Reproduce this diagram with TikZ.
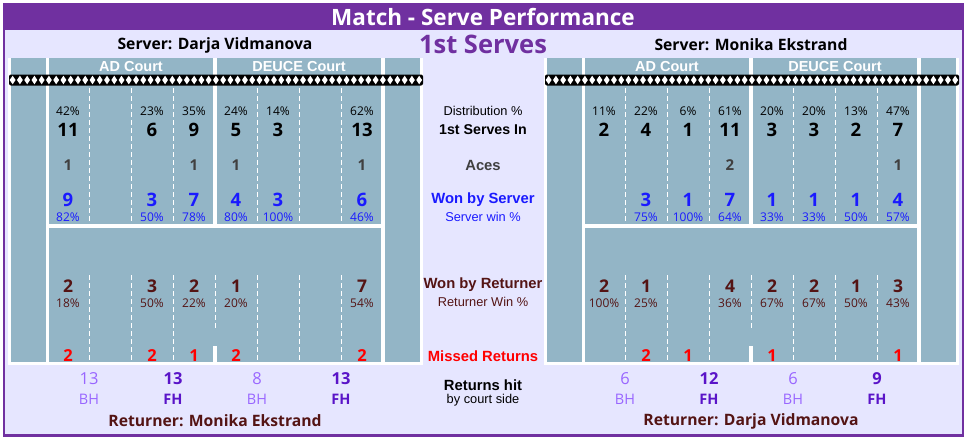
\documentclass[tikz,border=0pt]{standalone}
\usepackage{fontspec}
\setmainfont{Open Sans}
\newfontfamily\osf{Open Sans}
\newfontfamily\arf{Liberation Sans}
\definecolor{ttl}{RGB}{112,48,160}
\definecolor{lav}{RGB}{230,230,255}
\definecolor{court}{RGB}{147,181,198}
\definecolor{srvblue}{RGB}{26,26,255}
\definecolor{retbrown}{RGB}{84,20,20}
\definecolor{acegray}{RGB}{64,64,64}
\definecolor{bhc}{RGB}{153,102,255}
\definecolor{fhc}{RGB}{90,20,200}
\definecolor{missred}{RGB}{255,0,0}
\tikzset{
  lbl/.style={inner sep=0pt, anchor=center},
  pct/.style={lbl, font=\osf\fontsize{12}{14}\selectfont, text=black},
  num/.style={lbl, font=\osf\bfseries\fontsize{18.5}{20}\selectfont, text=black},
  ace/.style={lbl, font=\osf\bfseries\fontsize{15}{17}\selectfont, text=acegray},
  won/.style={num, text=srvblue},
  winp/.style={pct, text=srvblue},
  ret/.style={num, font=\osf\bfseries\fontsize{17.5}{19}\selectfont, text=retbrown},
  retp/.style={pct, text=retbrown},
  miss/.style={num, font=\osf\bfseries\fontsize{16.5}{18}\selectfont, text=missred},
  hitnum/.style={lbl, font=\osf\fontsize{16.5}{18}\selectfont, text=bhc},
  hitnumb/.style={lbl, font=\osf\bfseries\fontsize{16.5}{18}\selectfont, text=fhc},
  bhlbl/.style={lbl, font=\osf\fontsize{14.5}{16}\selectfont, text=bhc},
  fhlbl/.style={lbl, font=\osf\bfseries\fontsize{14.5}{16}\selectfont, text=fhc},
  plname/.style={lbl, font=\osf\bfseries\fontsize{15.7}{17}\selectfont, text=black},
  rname/.style={plname, text=retbrown},
  courthdr/.style={lbl, font=\arf\bfseries\fontsize{14.5}{16}\selectfont, text=white},
  cl/.style={lbl, font=\arf\fontsize{12.8}{14}\selectfont, text=black},
  clb/.style={lbl, font=\arf\bfseries\fontsize{14.8}{16}\selectfont, text=black},
  dline/.style={white, line width=1pt, dash pattern=on 5pt off 3pt},
}
\begin{document}
\begin{tikzpicture}[x=1pt,y=-1pt]
\useasboundingbox (0,0) rectangle (966,437);
\fill[white] (0,0) rectangle (966,437);
\fill[ttl] (3,3) rectangle (964,437);
\fill[lav] (5,30) rectangle (962,434);
\node[lbl, font=\osf\bfseries\fontsize{22.5}{24}\selectfont, text=white] (title) at (483,17) {Match - Serve Performance};
\node[lbl, font=\osf\bfseries\fontsize{25.5}{27}\selectfont, text=ttl] (sub) at (483,44) {1st Serves};
\node[plname] (srvL) at (215,45) {Server: Darja Vidmanova};
\node[plname] (srvR) at (751,45) {Server: Monika Ekstrand};

% ---------- courts ----------
\foreach \o/\s in {0/L,536/R}{
  \begin{scope}[xshift=\o pt]
    \fill[white] (8,58) rectangle (423,365);
    \fill[court] (11,58) rectangle (46,362);
    \fill[court] (49,58) rectangle (213,224);
    \fill[court] (217,58) rectangle (381,224);
    \fill[court] (385,58) rectangle (420,362);
    \fill[court] (49,228) rectangle (381,362);
    \fill[white] (213,346) rectangle (217,362);
    \foreach \x in {89,131,173,257,299,341}{
      \draw[dline] (\x,88) -- (\x,222);
      \draw[dline] (\x,275) -- (\x,362);
    }
    \draw[dline] (215,275) -- (215,328);
    \fill[black, rounded corners=2pt] (9,74.5) rectangle (423,85.5);
    \foreach \k in {0,...,56}{
      \fill[white] ({9+7.26*(\k+0.5)-2.9},80) -- ++(2.9,-4.3) -- ++(2.9,4.3) -- ++(-2.9,4.3) -- cycle;
    }
    \node[courthdr] (ad\s) at (131,67) {AD Court};
    \node[courthdr] (de\s) at (299,67) {DEUCE Court};
  \end{scope}
}

% ---------- center labels ----------
\node[cl] (cDist) at (483,111) {Distribution \%};
\node[clb, font=\arf\bfseries\fontsize{14.2}{15}\selectfont] (cIn) at (483,130) {1st Serves In};
\node[clb, text=acegray] (cAce) at (483,165) {Aces};
\node[clb, text=srvblue] (cWon) at (483,200) {Won by Server};
\node[cl, text=srvblue] (cWinp) at (483,217) {Server win \%};
\node[clb, text=retbrown] (cRet) at (483,285) {Won by Returner};
\node[cl, text=retbrown] (cRetp) at (483,302) {Returner Win \%};
\node[clb, text=missred] (cMiss) at (483,356) {Missed Returns};
\node[clb] (cHit) at (483,385) {Returns hit};
\node[cl] (cSide) at (483,400) {by court side};

% ---------- left court data (x = 68 + 42(c-1)) ----------
\foreach \c/\v in {1/42,3/23,4/35,5/24,6/14,8/62}
  \node[pct] (Ldist\c) at ({68+42*(\c-1)},111) {\v\%};
\foreach \c/\v in {1/11,3/6,4/9,5/5,6/3,8/13}
  \node[num] (Lin\c) at ({68+42*(\c-1)},130) {\v};
\foreach \c/\v in {1/1,4/1,5/1,8/1}
  \node[ace] (Lace\c) at ({68+42*(\c-1)},165) {\v};
\foreach \c/\v/\p in {1/9/82,3/3/50,4/7/78,5/4/80,6/3/100,8/6/46}{
  \node[won] (Lwon\c) at ({68+42*(\c-1)},200) {\v};
  \node[winp] (Lwinp\c) at ({68+42*(\c-1)},217) {\p\%};
}
\foreach \c/\v/\p in {1/2/18,3/3/50,4/2/22,5/1/20,8/7/54}{
  \node[ret] (Lret\c) at ({68+42*(\c-1)},286) {\v};
  \node[retp] (Lretp\c) at ({68+42*(\c-1)},303) {\p\%};
}
\foreach \c/\v in {1/2,3/2,4/1,5/2,8/2}
  \node[miss] (Lmiss\c) at ({68+42*(\c-1)},356) {\v};
\node[hitnum] (Lh1) at (89,379) {13};
\node[bhlbl] (Lb1) at (89,399) {BH};
\node[hitnumb] (Lh2) at (173,379) {13};
\node[fhlbl] (Lb2) at (173,399) {FH};
\node[hitnum] (Lh3) at (257,379) {8};
\node[bhlbl] (Lb3) at (257,399) {BH};
\node[hitnumb] (Lh4) at (341,379) {13};
\node[fhlbl] (Lb4) at (341,399) {FH};
\node[rname] (retL) at (215,421) {Returner: Monika Ekstrand};

% ---------- right court data (x = 604 + 42(c-1)) ----------
\foreach \c/\v in {1/11,2/22,3/6,4/61,5/20,6/20,7/13,8/47}
  \node[pct] (Rdist\c) at ({604+42*(\c-1)},111) {\v\%};
\foreach \c/\v in {1/2,2/4,3/1,4/11,5/3,6/3,7/2,8/7}
  \node[num] (Rin\c) at ({604+42*(\c-1)},130) {\v};
\foreach \c/\v in {4/2,8/1}
  \node[ace] (Race\c) at ({604+42*(\c-1)},165) {\v};
\foreach \c/\v/\p in {2/3/75,3/1/100,4/7/64,5/1/33,6/1/33,7/1/50,8/4/57}{
  \node[won] (Rwon\c) at ({604+42*(\c-1)},200) {\v};
  \node[winp] (Rwinp\c) at ({604+42*(\c-1)},217) {\p\%};
}
\foreach \c/\v/\p in {1/2/100,2/1/25,4/4/36,5/2/67,6/2/67,7/1/50,8/3/43}{
  \node[ret] (Rret\c) at ({604+42*(\c-1)},286) {\v};
  \node[retp] (Rretp\c) at ({604+42*(\c-1)},303) {\p\%};
}
\foreach \c/\v in {2/2,3/1,5/1,8/1}
  \node[miss] (Rmiss\c) at ({604+42*(\c-1)},356) {\v};
\node[hitnum] (Rh1) at (625,379) {6};
\node[bhlbl] (Rb1) at (625,399) {BH};
\node[hitnumb] (Rh2) at (709,379) {12};
\node[fhlbl] (Rb2) at (709,399) {FH};
\node[hitnum] (Rh3) at (793,379) {6};
\node[bhlbl] (Rb3) at (793,399) {BH};
\node[hitnumb] (Rh4) at (877,379) {9};
\node[fhlbl] (Rb4) at (877,399) {FH};
\node[rname] (retR) at (751,421) {Returner: Darja Vidmanova};
\end{tikzpicture}
\end{document}
